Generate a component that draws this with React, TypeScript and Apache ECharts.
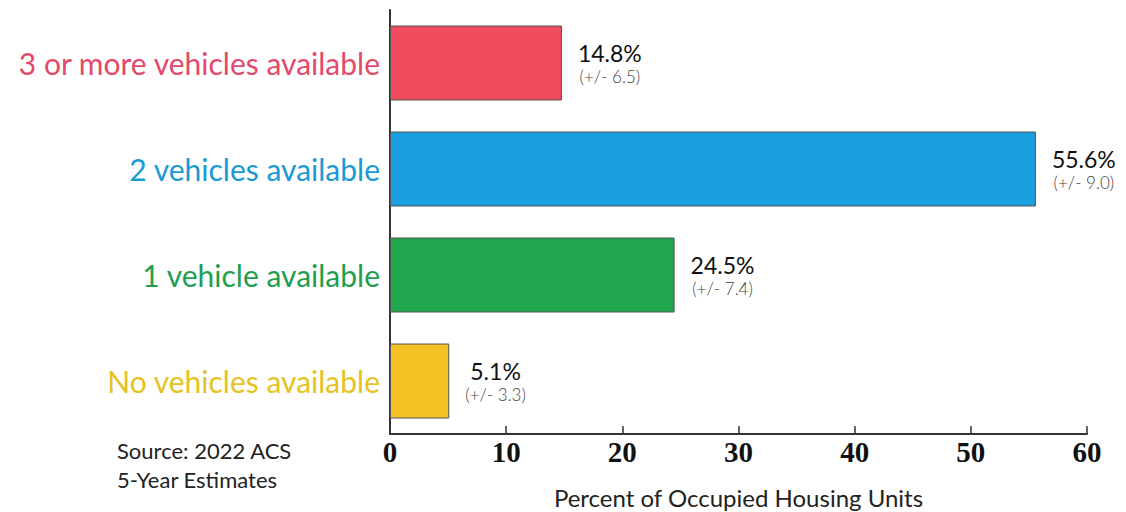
import React, { useEffect, useRef } from "react";
import * as echarts from "echarts";

const categories = [
  "No vehicles available",
  "1 vehicle available",
  "2 vehicles available",
  "3 or more vehicles available",
];
const values = [5.1, 24.5, 55.6, 14.8];
const margins = [3.3, 7.4, 9.0, 6.5];
const barColors = ["#f4c124", "#20a64c", "#199fdf", "#ef4b5c"];
const labelColors = ["#e6c21e", "#1e9e4e", "#1a9ad4", "#e4496a"];
const xTicks = [0, 10, 20, 30, 40, 50, 60];
const sourceLines = ["Source: 2022 ACS", "5-Year Estimates"];

const FONT = "Lato, 'Open Sans', sans-serif";

export default function App() {
  const ref = useRef<HTMLDivElement>(null);
  useEffect(() => {
    if (!ref.current) return;
    document.body.style.margin = "0";
    document.body.style.overflow = "hidden";
    const chart = echarts.init(ref.current, null, { renderer: "svg" });
    chart.setOption({
      animation: false,
      backgroundColor: "#ffffff",
      grid: { left: 390, right: 39, top: 10, bottom: 78, containLabel: false, outerBoundsMode: "none" },
      xAxis: {
        type: "value",
        min: xTicks[0],
        max: xTicks[xTicks.length - 1],
        interval: 10,
        splitLine: { show: false },
        axisLine: { show: true, lineStyle: { color: "#333", width: 2 } },
        axisTick: { show: true, inside: true, length: 8, lineStyle: { color: "#333", width: 1.5 } },
        axisLabel: {
          fontFamily: "'Liberation Serif', 'DejaVu Serif', serif",
          fontWeight: "bold",
          fontSize: 29,
          color: "#111",
          margin: 3,
        },
        name: "Percent of Occupied Housing Units",
        nameLocation: "middle",
        nameGap: 51,
        nameTextStyle: { fontFamily: FONT, fontSize: 24, color: "#222" },
      },
      yAxis: {
        type: "category",
        data: categories,
        axisLine: { show: true, lineStyle: { color: "#333", width: 2 } },
        axisTick: { show: false },
        axisLabel: {
          fontFamily: FONT,
          fontSize: 30,
          margin: 10,
          color: (_v: string, i: number) => labelColors[i],
        },
      },
      graphic: sourceLines.map((t, i) => ({
        type: "text",
        left: 117,
        top: 439 + i * 29,
        style: { text: t, fontFamily: FONT, fontSize: 22, fill: "#222" },
      })),
      series: [
        {
          type: "bar",
          barWidth: 75,
          data: values.map((v, i) => ({
            value: v,
            itemStyle: { color: barColors[i], borderColor: "#555", borderWidth: 1 },
          })),
          label: {
            show: true,
            position: "right",
            distance: 16,
            formatter: (p: any) =>
              `{a|${p.value.toFixed(1)}%}\n{b|(+/- ${margins[p.dataIndex].toFixed(1)})}`,
            rich: {
              a: { fontFamily: FONT, fontSize: 23, color: "#111", align: "center", lineHeight: 27 },
              b: { fontFamily: FONT, fontSize: 17, color: "#444", fontWeight: 300, align: "center", lineHeight: 20 },
            },
          },
        },
      ],
    });
    return () => chart.dispose();
  }, []);
  return <div ref={ref} style={{ width: 1126, height: 512 }} />;
}
